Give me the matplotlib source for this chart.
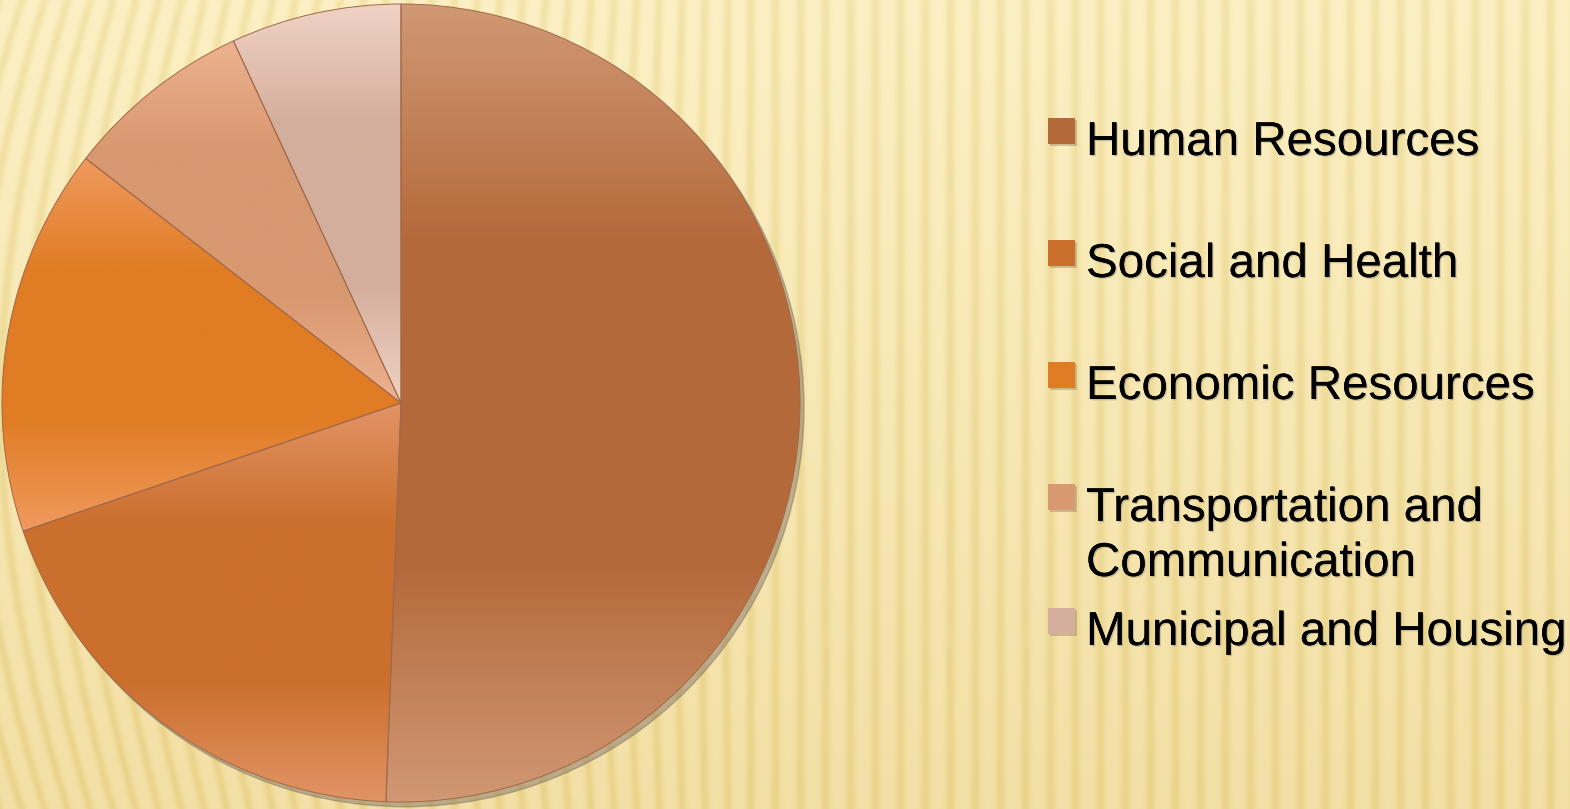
import numpy as np
import matplotlib
matplotlib.use("Agg")
import matplotlib.pyplot as plt
import matplotlib.patheffects as pe
from matplotlib.colors import LinearSegmentedColormap, to_rgb
from matplotlib.patches import Circle, Rectangle

# ---- data ----
categories = ["Human Resources", "Social and Health", "Economic Resources",
              "Transportation and\nCommunication", "Municipal and Housing"]
shares = [50.6, 19.2, 15.7, 7.6, 6.9]
base_colors = ["#B4693A", "#CB6F2D", "#E07C24", "#D89870", "#D4AE9C"]
light_colors = ["#D09874", "#E29466", "#F09A5E", "#EDB290", "#F0D2C4"]

W, H, DPI = 1570, 809, 100
fig = plt.figure(figsize=(W / DPI, H / DPI), dpi=DPI)

# ---- background (striped pale yellow) ----
bg = fig.add_axes([0, 0, 1, 1])
yy, xx = np.mgrid[0:H, 0:W].astype(float)
a = np.clip(1 - xx / 750, 0, 1) * 0.00045
phase = (xx - a * (yy - H / 2) ** 2) / 25.0 * 2 * np.pi
stripe = ((0.5 + 0.5 * np.cos(phase)) ** 2.5)[..., None]
t = (yy / H)[..., None]
top_c = np.array(to_rgb("#FCF0C4"))
bot_c = np.array(to_rgb("#F3E0A6"))
base = top_c * (1 - t) + bot_c * t
dark_off = np.array([0.035, 0.05, 0.11])
img = base - stripe * dark_off
bg.imshow(np.clip(img, 0, 1), extent=[0, W, 0, H], origin="upper", aspect="auto")
bg.set_axis_off()

# ---- pie ----
cx, cy, r = 401, 403, 399
ax = fig.add_axes([(cx - r) / W, (H - cy - r) / H, 2 * r / W, 2 * r / H])
ax.set_aspect("equal")
ax.set_axis_off()

# shadow
ax.add_patch(Circle((0.010, -0.012), 1.0, color="#7a6a60", alpha=0.45, zorder=0, clip_on=False))

wedges, _ = ax.pie(shares, colors=base_colors, startangle=90, counterclock=False,
                   radius=1.0, wedgeprops=dict(edgecolor="#A06848", linewidth=0.7))

inv = ax.transData.inverted()
for w, lc, bc in zip(wedges, light_colors, base_colors):
    bb = w.get_path().get_extents(w.get_transform())
    (x0, y0), (x1, y1) = inv.transform([[bb.x0, bb.y0], [bb.x1, bb.y1]])
    cmap = LinearSegmentedColormap.from_list(
        "g", [(0, lc), (0.3, bc), (0.7, bc), (1, lc)])
    grad = np.linspace(0, 1, 256)[:, None]
    im = ax.imshow(grad, cmap=cmap, extent=[x0, x1, y0, y1], origin="upper",
                   aspect="auto", zorder=w.get_zorder() + 0.1)
    im.set_clip_path(w)
    w.set_facecolor("none")
    w.set_zorder(w.get_zorder() + 0.2)

ax.set_xlim(-1, 1)
ax.set_ylim(-1, 1)

# ---- legend ----
first_baselines = [155, 277, 399, 521, 645]
line_gap = 55
shadow = [pe.withSimplePatchShadow(offset=(1.0, -1.0), shadow_rgbFace="#807860", alpha=0.35),
          pe.Normal()]
for lab, col, yb in zip(categories, base_colors, first_baselines):
    top = yb - 37
    fig.patches.append(Rectangle(((1048 + 2) / W, (H - top - 26 - 2) / H), 27 / W, 26 / H,
                                 transform=fig.transFigure, facecolor="#8a7a60",
                                 alpha=0.4, edgecolor="none"))
    fig.patches.append(Rectangle((1048 / W, (H - top - 26) / H), 27 / W, 26 / H,
                                 transform=fig.transFigure, facecolor=col,
                                 edgecolor="none"))
    for i, line in enumerate(lab.split("\n")):
        fig.text(1086 / W, (H - yb - i * line_gap) / H, line, fontsize=34.2,
                 family="Liberation Sans", color="black", va="baseline", ha="left",
                 path_effects=shadow)

fig.savefig("out.png", dpi=DPI)
